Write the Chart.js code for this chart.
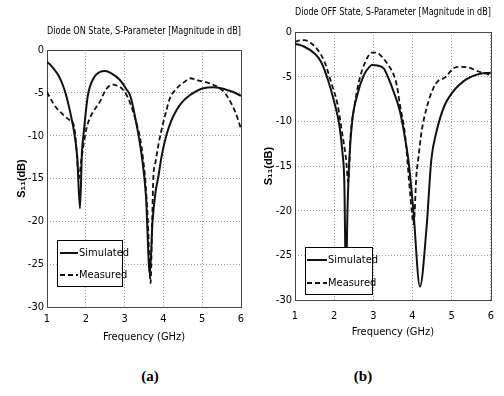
<!DOCTYPE html>
<html>
<head>
<meta charset="utf-8">
<script src="https://cdn.jsdelivr.net/npm/chart.js@4/dist/chart.umd.min.js"></script>
<style>
html,body{margin:0;padding:0;background:#fff;width:504px;height:396px;overflow:hidden;position:relative}
.wrap{position:absolute;top:0;width:252px;height:350px}
.cap{position:absolute;top:368px;font:bold 15px 'Liberation Serif','Times New Roman',serif;color:#000;transform:translateX(-50%)}
</style>
</head>
<body>
<div class="wrap" style="left:0"><canvas id="ca" width="252" height="350"></canvas></div>
<div class="wrap" style="left:252px"><canvas id="cb" width="252" height="350"></canvas></div>
<div class="cap" style="left:150px">(a)</div>
<div class="cap" style="left:363px">(b)</div>
<script>
// ---------- data ----------
const titleOn = 'Diode ON State, S-Parameter [Magnitude in dB]';
const titleOff = 'Diode OFF State, S-Parameter [Magnitude in dB]';
const xAxisTitle = 'Frequency (GHz)';
const yAxisTitle = 'S\u2081\u2081(dB)';
const seriesNames = ['Simulated', 'Measured'];
const xTicks = [1, 2, 3, 4, 5, 6];
const yTicks = [0, -5, -10, -15, -20, -25, -30];

// Diode ON – simulated
const onSimF  = [1.0,1.1,1.2,1.3,1.4,1.5,1.6,1.7,1.78,1.85,1.9,1.95,2.05,2.2,2.35,2.5,2.65,2.88,3.05,3.15,3.3,3.44,3.55,3.65,3.72,3.8,3.87,3.95,4.08,4.2,4.34,4.5,4.69,4.85,5.0,5.3,5.6,5.8,6.0];
const onSimDb = [-1.4,-1.8,-2.35,-3.0,-4.0,-5.4,-7.3,-9.6,-12.5,-18.5,-12,-9.5,-5.4,-3.3,-2.6,-2.45,-2.7,-3.5,-4.6,-5.4,-8.5,-12.3,-17,-26.2,-20,-16.5,-14.8,-12.5,-9.9,-8.3,-7,-6,-5.25,-4.8,-4.5,-4.35,-4.6,-4.9,-5.35];
// Diode ON – measured
const onMeaF  = [1.0,1.08,1.16,1.25,1.34,1.45,1.59,1.68,1.73,1.77,1.82,1.88,1.94,2.02,2.1,2.19,2.28,2.37,2.45,2.54,2.62,2.72,2.8,2.88,2.97,3.05,3.15,3.22,3.32,3.4,3.47,3.53,3.6,3.67,3.71,3.74,3.8,3.87,4.0,4.08,4.17,4.3,4.43,4.55,4.69,4.8,4.94,5.05,5.2,5.35,5.46,5.6,5.72,5.85,5.95,6.0];
const onMeaDb = [-4.9,-5.6,-6.2,-6.8,-7.2,-7.7,-8.2,-8.6,-10,-12.3,-15,-13,-11.1,-9.1,-8,-7.2,-6.6,-6,-5.2,-4.5,-4.15,-4.05,-4.15,-4.3,-4.7,-5.25,-6.3,-7.2,-8.8,-10.3,-12.5,-15,-20,-27.2,-20,-15,-13,-11.1,-8.4,-7,-5.6,-4.7,-4.1,-3.7,-3.3,-3.4,-3.6,-3.7,-3.9,-4.2,-4.5,-5.1,-6,-7.2,-8.5,-9.2];
// Diode OFF – simulated
const offSimF  = [1.0,1.24,1.5,1.66,1.83,2.0,2.13,2.21,2.26,2.3,2.34,2.38,2.46,2.59,2.76,2.9,2.97,3.1,3.27,3.35,3.52,3.68,3.81,3.9,4.02,4.19,4.36,4.48,4.61,4.82,5.03,5.2,5.37,5.62,5.87,6.0];
const offSimDb = [-1.3,-1.65,-2.4,-3.3,-5.2,-7.8,-10.4,-13.4,-17,-28,-20,-14.9,-10,-7.05,-4.8,-3.9,-3.7,-3.75,-4.1,-4.8,-6.7,-8.9,-11.9,-14.5,-19.9,-28.5,-21.8,-14.3,-11.2,-8.2,-6.7,-5.9,-5.3,-4.8,-4.6,-4.6];
// Diode OFF – measured
const offMeaF  = [1.0,1.12,1.24,1.41,1.58,1.75,1.92,2.09,2.21,2.3,2.36,2.42,2.51,2.63,2.8,2.97,3.05,3.18,3.35,3.52,3.6,3.68,3.81,3.94,4.03,4.1,4.15,4.23,4.36,4.53,4.65,4.74,4.86,4.95,5.03,5.2,5.45,5.7,5.96,6.0];
const offMeaDb = [-1.1,-0.95,-0.9,-1.27,-2.0,-3.3,-5.6,-8.2,-11.5,-14.1,-16.8,-11.5,-8.5,-5.6,-3.3,-2.3,-2.3,-2.6,-3.5,-4.8,-6.0,-8.2,-11.5,-18.1,-21.5,-16,-14.1,-11.2,-8.5,-6.3,-5.5,-5.3,-5.0,-4.5,-4.1,-3.9,-4.0,-4.45,-4.8,-4.9];

// ---------- helpers ----------
const NARROW = "'Liberation Sans Narrow','Arial Narrow','DejaVu Sans Condensed','Liberation Sans',sans-serif";
function toXY(fs, ds) { return fs.map((f, i) => ({x: f, y: ds[i]})); }

const framePlugin = {
  id: 'frame',
  beforeDatasetsDraw(chart) {
    const {ctx, chartArea: a} = chart;
    ctx.save();
    ctx.strokeStyle = '#444';
    ctx.lineWidth = 1;
    ctx.setLineDash([]);
    ctx.strokeRect(Math.round(a.left) + 0.5, Math.round(a.top) + 0.5, Math.round(a.right - a.left), Math.round(a.bottom - a.top));
    ctx.restore();
  }
};

const centerTitle = {
  id: 'centerTitle',
  afterLayout(chart) {
    const t = chart.titleBlock;
    if (t) { t.left = chart.chartArea.left; t.right = chart.chartArea.right; t.width = t.right - t.left; }
  }
};

const boxLegend = {
  id: 'boxLegend',
  afterDatasetsDraw(chart, args, o) {
    const {ctx, chartArea: a} = chart;
    const x = Math.round(a.left + o.dx), y = Math.round(a.top + o.dy);
    ctx.save();
    ctx.fillStyle = '#fff';
    ctx.fillRect(x, y, o.w, o.h);
    ctx.strokeStyle = '#000';
    ctx.lineWidth = 1;
    ctx.setLineDash([]);
    ctx.strokeRect(x + 0.5, y + 0.5, o.w, o.h);
    chart.data.datasets.forEach((ds, i) => {
      const cy = y + o.rows[i];
      ctx.beginPath();
      ctx.setLineDash(ds.borderDash || []);
      ctx.lineWidth = ds.borderWidth;
      ctx.strokeStyle = ds.borderColor;
      ctx.moveTo(x + o.l0, cy);
      ctx.lineTo(x + o.l1, cy);
      ctx.stroke();
      ctx.setLineDash([]);
      ctx.fillStyle = '#000';
      ctx.font = '11px ' + NARROW;
      ctx.textBaseline = 'middle';
      ctx.textAlign = 'left';
      ctx.fillText(ds.label, x + o.l1 + 1, cy);
    });
    ctx.restore();
  }
};

function build(id, p) {
  const tickFont = {family: NARROW, size: 11};
  return new Chart(document.getElementById(id), {
    type: 'line',
    data: {
      datasets: [
        {label: seriesNames[0], data: toXY(p.simF, p.simDb), borderColor: '#111', borderWidth: 2,
         pointRadius: 0, cubicInterpolationMode: 'monotone', fill: false},
        {label: seriesNames[1], data: toXY(p.meaF, p.meaDb), borderColor: '#111', borderWidth: 1.8,
         borderDash: [5, 3], pointRadius: 0, cubicInterpolationMode: 'monotone', fill: false}
      ]
    },
    options: {
      responsive: false, animation: false, devicePixelRatio: 1,
      layout: {padding: {top: p.padTop, left: 0, right: p.padRight, bottom: 5}},
      plugins: {
        legend: {display: false},
        tooltip: {enabled: false},
        title: {display: true, text: p.title, color: '#000',
                font: {family: NARROW, size: 11, weight: 'normal'},
                padding: {top: 5, bottom: p.titlePadBottom}},
        boxLegend: p.legend
      },
      scales: {
        x: {
          type: 'linear', min: 1, max: 6,
          afterBuildTicks: s => { s.ticks = xTicks.map(v => ({value: v})); },
          afterFit: s => { s.height = p.xH; },
          ticks: {color: '#000', font: tickFont, padding: p.xTickPad, maxRotation: 0, callback: v => String(v)},
          grid: {color: '#9a9a9a', lineWidth: 1, drawTicks: false},
          border: {display: false, dash: [1, 2]},
          title: {display: true, text: xAxisTitle, color: '#000', font: {family: NARROW, size: 11},
                  padding: {top: 0, bottom: p.xTitlePad}}
        },
        y: {
          type: 'linear', min: -30, max: 0,
          afterBuildTicks: s => { s.ticks = yTicks.map(v => ({value: v})); },
          afterFit: s => { s.width = p.yW; },
          ticks: {color: '#000', font: tickFont, padding: 3, callback: v => String(v)},
          grid: {color: '#9a9a9a', lineWidth: 1, drawTicks: false},
          border: {display: false, dash: [1, 2]},
          title: {display: true, text: yAxisTitle, color: '#000',
                  font: {family: "'Liberation Sans',sans-serif", size: 11, weight: 'bold'},
                  padding: {top: p.yTitlePad, bottom: 0}}
        }
      }
    },
    plugins: [framePlugin, centerTitle, boxLegend]
  });
}

build('ca', {
  title: titleOn, simF: onSimF, simDb: onSimDb, meaF: onMeaF, meaDb: onMeaDb,
  padTop: 20, padRight: 11, titlePadBottom: 11.8, xH: 38, xTickPad: 6, xTitlePad: 1.4,
  yW: 47, yTitlePad: 15,
  legend: {dx: 10, dy: 190, w: 65, h: 46, rows: [13, 35], l0: 3, l1: 21}
});
build('cb', {
  title: titleOff, simF: offSimF, simDb: offSimDb, meaF: offMeaF, meaDb: offMeaDb,
  padTop: 1, padRight: 9, titlePadBottom: 12.8, xH: 45, xTickPad: 10, xTitlePad: 6.4,
  yW: 43, yTitlePad: 10.4,
  legend: {dx: 10, dy: 215, w: 67, h: 47, rows: [13, 36], l0: 2, l1: 22}
});
</script>
</body>
</html>
